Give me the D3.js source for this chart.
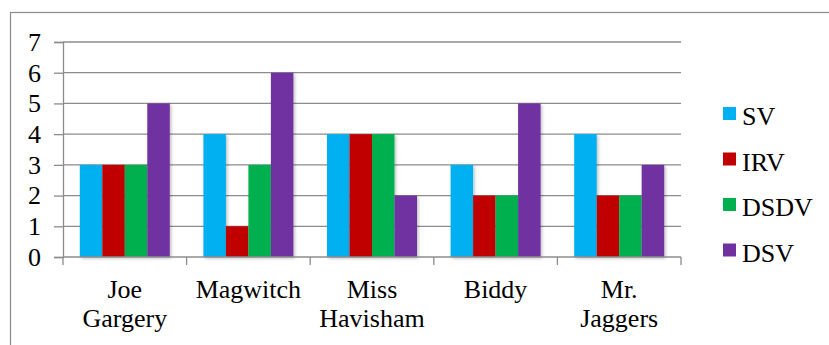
<!DOCTYPE html>
<html>
<head>
<meta charset="utf-8">
<script src="https://cdn.jsdelivr.net/npm/d3@7/dist/d3.min.js"></script>
<style>
  html, body { margin: 0; padding: 0; background: #fff; }
  svg { display: block; }
  svg text { font-family: "Liberation Serif", serif; }
</style>
</head>
<body>
<svg id="chart" width="829" height="345"></svg>
<script>
// Characters and the four measures plotted for each
const categories = [["Joe", "Gargery"], ["Magwitch"], ["Miss", "Havisham"], ["Biddy"], ["Mr.", "Jaggers"]];
const seriesNames = ["SV", "IRV", "DSDV", "DSV"];
const seriesColors = ["#00B0F0", "#C00000", "#00B050", "#7030A0"];
const sv   = [3, 4, 4, 3, 4];
const irv  = [3, 1, 4, 2, 2];
const dsdv = [3, 3, 4, 2, 2];
const dsv  = [5, 6, 2, 5, 3];
const yTicks = [0, 1, 2, 3, 4, 5, 6, 7];

const FONT = "Liberation Serif";
const FS = 26;
const GRID = "#8c8c8c";
const seriesValues = [sv, irv, dsdv, dsv];
const svg = d3.select("#chart");

// Outer chart frame
svg.append("rect")
  .attr("x", 10.5).attr("y", 12.5)
  .attr("width", 830).attr("height", 340)
  .attr("fill", "none").attr("stroke", GRID).attr("stroke-width", 1.2);

const plot = { left: 63, right: 681, top: 42, bottom: 257 };

const x0 = d3.scaleBand()
  .domain(d3.range(categories.length))
  .range([plot.left, plot.right])
  .paddingInner(0.272).paddingOuter(0.136);
const x1 = d3.scaleBand()
  .domain(d3.range(seriesNames.length))
  .range([0, x0.bandwidth()]);
const y = d3.scaleLinear().domain([0, 7]).range([plot.bottom, plot.top]);

// Soft drop shadow under the bars
const defs = svg.append("defs");
const f = defs.append("filter").attr("id", "shadow")
  .attr("x", "-20%").attr("y", "-10%").attr("width", "150%").attr("height", "130%");
f.append("feDropShadow").attr("dx", 1.5).attr("dy", 1.5)
  .attr("stdDeviation", 1.5).attr("flood-color", "#000").attr("flood-opacity", 0.25);

// Horizontal gridlines
svg.append("g").selectAll("line")
  .data(yTicks.filter(t => t > 0))
  .join("line")
  .attr("x1", plot.left).attr("x2", plot.right)
  .attr("y1", d => y(d)).attr("y2", d => y(d))
  .attr("stroke", GRID).attr("stroke-width", 1.3);

// Y axis
const yAxis = svg.append("g")
  .attr("transform", `translate(${plot.left},0)`)
  .call(d3.axisLeft(y).tickValues(yTicks).tickSize(9).tickPadding(13).tickFormat(d3.format("d")));
yAxis.attr("font-family", FONT).attr("font-size", FS);
yAxis.select(".domain").attr("stroke", GRID).attr("stroke-width", 1.3);
yAxis.selectAll(".tick line").attr("stroke", GRID).attr("stroke-width", 1.3);
yAxis.selectAll(".tick text")
  .attr("font-family", FONT).attr("font-size", FS).attr("fill", "#000");

// Bars
const groups = svg.append("g").selectAll("g")
  .data(categories.map((c, i) => i))
  .join("g")
  .attr("transform", i => `translate(${x0(i)},0)`);
groups.selectAll("rect")
  .data(i => seriesValues.map((vals, s) => ({ s, v: vals[i] })))
  .join("rect")
  .attr("x", d => x1(d.s))
  .attr("width", x1.bandwidth())
  .attr("y", d => y(d.v))
  .attr("height", d => y(0) - y(d.v))
  .attr("fill", d => seriesColors[d.s])
  .attr("filter", "url(#shadow)");

// X axis baseline and category dividers
const catStep = (plot.right - plot.left) / categories.length;
svg.append("line")
  .attr("x1", plot.left).attr("x2", plot.right)
  .attr("y1", plot.bottom).attr("y2", plot.bottom)
  .attr("stroke", GRID).attr("stroke-width", 1.3);
svg.append("g").selectAll("line")
  .data(d3.range(categories.length + 1))
  .join("line")
  .attr("x1", i => plot.left + i * catStep).attr("x2", i => plot.left + i * catStep)
  .attr("y1", plot.bottom).attr("y2", plot.bottom + 8)
  .attr("stroke", GRID).attr("stroke-width", 1.3);

// Category labels
const lbl = svg.append("g").selectAll("text")
  .data(categories)
  .join("text")
  .attr("text-anchor", "middle")
  .attr("font-family", FONT)
  .attr("font-size", FS)
  .attr("fill", "#000")
  .attr("x", (d, i) => x0(i) + x0.bandwidth() / 2)
  .attr("y", 298);
lbl.selectAll("tspan")
  .data(d => d)
  .join("tspan")
  .attr("x", function () { return d3.select(this.parentNode).attr("x"); })
  .attr("dy", (d, j) => j === 0 ? 0 : 29)
  .text(d => d);

// Legend
const legend = svg.append("g").selectAll("g")
  .data(seriesNames)
  .join("g")
  .attr("transform", (d, i) => `translate(723,${107 + i * 45.5})`);
legend.append("rect")
  .attr("width", 13).attr("height", 13)
  .attr("fill", (d, i) => seriesColors[i]);
legend.append("text")
  .attr("x", 19).attr("y", 18)
  .attr("font-family", FONT)
  .attr("font-size", FS)
  .attr("fill", "#000")
  .text(d => d);
</script>
</body>
</html>
